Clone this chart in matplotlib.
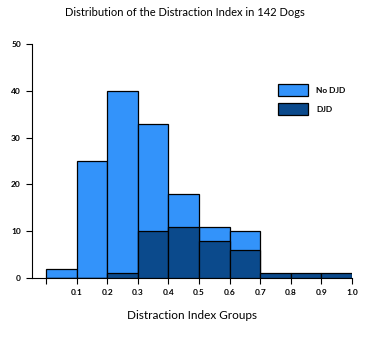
import numpy as np
import matplotlib.pyplot as plt

plt.rcParams['font.family'] = ['Lato', 'DejaVu Sans']

bin_edges = [0.0, 0.1, 0.2, 0.3, 0.4, 0.5, 0.6, 0.7, 0.8, 0.9]
no_djd = [2, 25, 40, 33, 18, 11, 10, 0, 0, 0]
djd = [0, 0, 1, 10, 11, 8, 6, 1, 1, 1]
x_ticks = [0.0, 0.1, 0.2, 0.3, 0.4, 0.5, 0.6, 0.7, 0.8, 0.9, 1.0]
x_labels = ['', '0.1', '0.2', '0.3', '0.4', '0.5', '0.6', '0.7', '0.8', '0.9', '1.0']
y_ticks = [0, 10, 20, 30, 40, 50]

light = '#3393fa'
dark = '#0b4a8c'

fig = plt.figure(figsize=(3.7, 3.38), dpi=100)
ax = fig.add_axes([32 / 370, 60 / 338, 320 / 370, 234 / 338])

ax.bar(bin_edges, no_djd, width=0.1, align='edge', color=light,
       edgecolor='black', linewidth=0.9, label='No DJD', zorder=2)
ax.bar(bin_edges, djd, width=0.1, align='edge', color=dark,
       edgecolor='black', linewidth=0.9, label='DJD', zorder=3)

ax.set_xlim(-0.046, 1.0)
ax.set_ylim(0, 50)
ax.set_xticks(x_ticks)
ax.set_xticklabels(x_labels)
ax.set_yticks(y_ticks)
ax.tick_params(axis='both', direction='out', length=4, width=0.8,
               labelsize=6, pad=4)
for lbl in ax.get_xticklabels() + ax.get_yticklabels():
    lbl.set_fontweight('bold')

ax.spines['top'].set_visible(False)
ax.spines['right'].set_visible(False)
ax.spines['left'].set_linewidth(0.8)
ax.spines['bottom'].set_linewidth(0.8)

ax.set_xlabel('Distraction Index Groups', fontsize=8.5, labelpad=10)
fig.text(0.5, 1 - 13 / 338, 'Distribution of the Distraction Index in 142 Dogs',
         ha='center', va='center', fontsize=8)

# legend: handles roughly 30x13 px
ax.legend(loc='upper left', bbox_to_anchor=(277.7 / 370, 1 - 84 / 338),
          bbox_transform=fig.transFigure, frameon=False,
          borderpad=0, borderaxespad=0,
          handlelength=3.6, handleheight=1.9, labelspacing=0.8,
          handletextpad=1.0, prop={'size': 6, 'weight': 'bold'})

fig.savefig('out.png', dpi=100)
